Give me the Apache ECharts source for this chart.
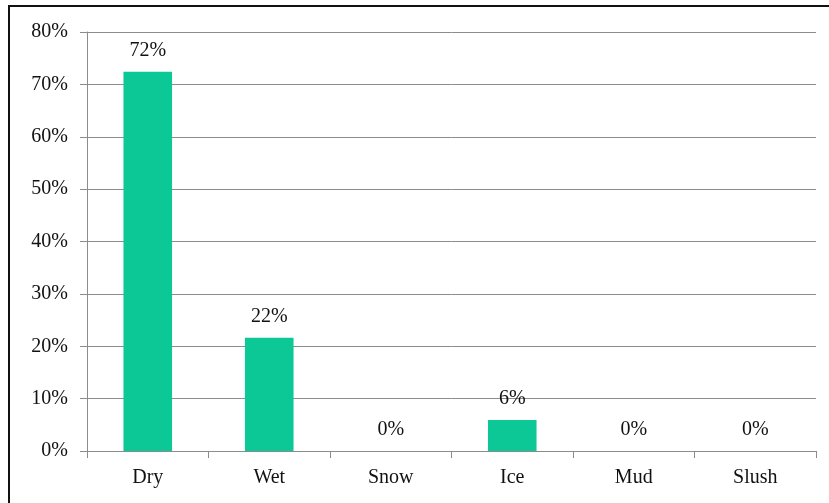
<!DOCTYPE html>
<html>
<head>
<meta charset="utf-8">
<script src="https://cdn.jsdelivr.net/npm/echarts@6/dist/echarts.min.js"></script>
<style>
  html, body { margin: 0; padding: 0; background: #fff; }
  #chart { width: 829px; height: 503px; }
</style>
</head>
<body>
<div id="chart"></div>
<script>
// Road surface condition shares (percent)
const categories = ['Dry', 'Wet', 'Snow', 'Ice', 'Mud', 'Slush'];
const shares = [72.4, 21.6, 0, 5.9, 0, 0];
const yTicks = [0, 10, 20, 30, 40, 50, 60, 70, 80];

const serif = '"Liberation Serif", "Times New Roman", serif';
const gridGray = '#8c8c8c';

const chart = echarts.init(document.getElementById('chart'), null, { renderer: 'canvas' });
chart.setOption({
  animation: false,
  backgroundColor: '#ffffff',
  graphic: [{
    type: 'rect',
    shape: { x: 9, y: 6, width: 840, height: 520 },
    style: { fill: 'none', stroke: '#111', lineWidth: 2 },
    silent: true
  }],
  grid: { left: 87, right: 13, top: 32, bottom: 52, containLabel: false },
  xAxis: {
    type: 'category',
    data: categories,
    axisLine: { show: true, lineStyle: { color: gridGray, width: 1 } },
    axisTick: { show: true, length: 7, alignWithLabel: false, lineStyle: { color: gridGray } },
    axisLabel: { color: '#111', fontFamily: serif, fontSize: 20, margin: 17 }
  },
  yAxis: {
    type: 'value',
    min: yTicks[0],
    max: yTicks[yTicks.length - 1],
    interval: 10,
    axisLine: { show: true, lineStyle: { color: gridGray, width: 1 } },
    axisTick: { show: true, length: 7, lineStyle: { color: gridGray } },
    splitLine: { show: true, lineStyle: { color: gridGray, width: 1 } },
    axisLabel: {
      color: '#111', fontFamily: serif, fontSize: 20, margin: 19,
      formatter: v => v + '%'
    }
  },
  series: [{
    type: 'bar',
    data: shares,
    barWidth: '40%',
    itemStyle: { color: '#0cc896' },
    label: {
      show: true,
      position: 'top',
      distance: 11,
      color: '#111',
      fontFamily: serif,
      fontSize: 20,
      formatter: p => Math.round(p.value) + '%'
    }
  }]
});
</script>
</body>
</html>
